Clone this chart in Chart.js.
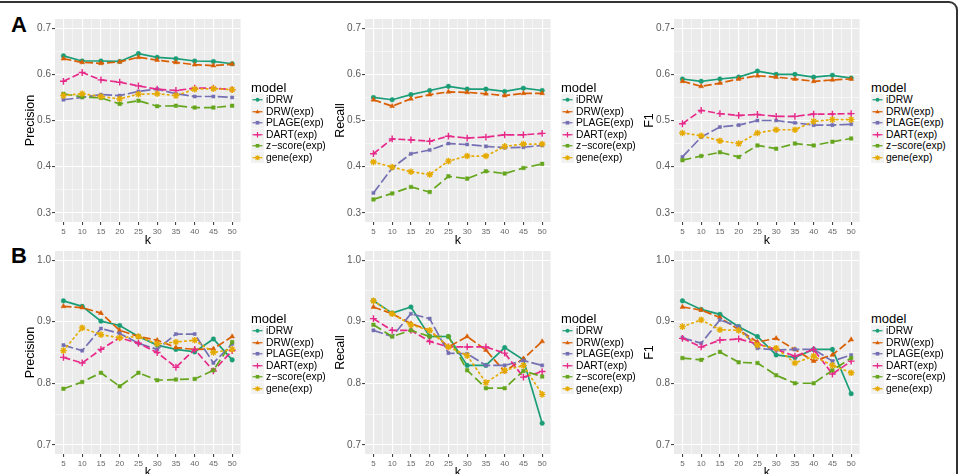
<!DOCTYPE html>
<html>
<head>
<meta charset="utf-8">
<script src="https://cdn.jsdelivr.net/npm/chart.js@4.4.1/dist/chart.umd.min.js"></script>
<style>
  body { margin: 0; width: 959px; height: 474px; position: relative; overflow: hidden; background: #fff;
         font-family: "Liberation Sans", Arial, sans-serif; }
  .frame { position: absolute; left: -12px; top: 1px; width: 966px; height: 520px;
           border: 2px solid #333; border-radius: 9px; }
  canvas { position: absolute; }
  .tag { position: absolute; font-weight: bold; font-size: 22px; line-height: 22px; color: #000; }
  .legend { position: absolute; color: #000; }
  .legend .lt { font-size: 13px; height: 13.5px; line-height: 13.5px; }
  .legend .li { display: flex; align-items: center; height: 11.5px; font-size: 10.3px; }
  .legend svg { display: block; margin-right: 2px; }
</style>
</head>
<body>
<div class="frame"></div>
<div class="tag" style="left:11px;top:14px">A</div>
<div class="tag" style="left:11px;top:245px">B</div>

<canvas id="a1" width="246" height="248" style="left:0px;top:0px"></canvas>
<canvas id="a2" width="246" height="248" style="left:310px;top:0px"></canvas>
<canvas id="a3" width="246" height="248" style="left:619px;top:0px"></canvas>
<canvas id="b1" width="246" height="248" style="left:0px;top:232px"></canvas>
<canvas id="b2" width="246" height="248" style="left:310px;top:232px"></canvas>
<canvas id="b3" width="246" height="248" style="left:619px;top:232px"></canvas>

<script>
// data
const kValues = [5, 10, 15, 20, 25, 30, 35, 40, 45, 50];
const models = ["iDRW", "DRW(exp)", "PLAGE(exp)", "DART(exp)", "z\u2212score(exp)", "gene(exp)"];

// row A (one row per model, same order as models)
const precisionA = [
  [0.640, 0.629, 0.629, 0.628, 0.645, 0.637, 0.634, 0.629, 0.628, 0.623],
  [0.634, 0.626, 0.624, 0.627, 0.637, 0.631, 0.626, 0.621, 0.619, 0.622],
  [0.545, 0.550, 0.556, 0.554, 0.563, 0.568, 0.558, 0.552, 0.552, 0.550],
  [0.585, 0.604, 0.588, 0.583, 0.575, 0.568, 0.565, 0.570, 0.570, 0.567],
  [0.558, 0.551, 0.549, 0.536, 0.543, 0.531, 0.532, 0.528, 0.528, 0.532],
  [0.554, 0.558, 0.552, 0.547, 0.557, 0.558, 0.554, 0.568, 0.569, 0.567]
];
const recallA = [
  [0.550, 0.545, 0.556, 0.565, 0.574, 0.568, 0.568, 0.563, 0.570, 0.565],
  [0.545, 0.531, 0.547, 0.556, 0.562, 0.561, 0.558, 0.554, 0.559, 0.559],
  [0.343, 0.397, 0.428, 0.436, 0.450, 0.448, 0.444, 0.441, 0.442, 0.446],
  [0.428, 0.460, 0.458, 0.455, 0.466, 0.462, 0.464, 0.469, 0.469, 0.472],
  [0.329, 0.342, 0.356, 0.345, 0.379, 0.374, 0.390, 0.385, 0.397, 0.406],
  [0.410, 0.399, 0.389, 0.383, 0.412, 0.423, 0.423, 0.444, 0.449, 0.449]
];
const f1A = [
  [0.590, 0.585, 0.590, 0.594, 0.607, 0.600, 0.600, 0.594, 0.598, 0.592],
  [0.585, 0.574, 0.581, 0.590, 0.597, 0.594, 0.590, 0.585, 0.588, 0.590],
  [0.421, 0.464, 0.486, 0.490, 0.500, 0.500, 0.495, 0.490, 0.490, 0.492],
  [0.493, 0.522, 0.515, 0.511, 0.513, 0.509, 0.509, 0.514, 0.514, 0.515],
  [0.414, 0.423, 0.431, 0.421, 0.446, 0.439, 0.450, 0.446, 0.454, 0.461],
  [0.473, 0.467, 0.456, 0.450, 0.473, 0.480, 0.480, 0.498, 0.502, 0.502]
];

// row B
const precisionB = [
  [0.934, 0.925, 0.901, 0.894, 0.876, 0.862, 0.855, 0.851, 0.872, 0.838],
  [0.925, 0.923, 0.914, 0.886, 0.876, 0.870, 0.858, 0.855, 0.856, 0.876],
  [0.862, 0.853, 0.889, 0.881, 0.865, 0.855, 0.880, 0.880, 0.833, 0.864],
  [0.842, 0.833, 0.855, 0.874, 0.865, 0.850, 0.826, 0.855, 0.820, 0.853],
  [0.791, 0.802, 0.817, 0.795, 0.817, 0.805, 0.806, 0.807, 0.821, 0.867],
  [0.853, 0.890, 0.879, 0.874, 0.876, 0.864, 0.867, 0.870, 0.850, 0.855]
];
const recallB = [
  [0.934, 0.914, 0.924, 0.876, 0.876, 0.829, 0.829, 0.858, 0.838, 0.735],
  [0.924, 0.913, 0.897, 0.886, 0.859, 0.876, 0.854, 0.819, 0.840, 0.868],
  [0.886, 0.876, 0.913, 0.905, 0.849, 0.848, 0.829, 0.829, 0.837, 0.829],
  [0.905, 0.886, 0.886, 0.868, 0.859, 0.859, 0.859, 0.849, 0.810, 0.819],
  [0.895, 0.876, 0.886, 0.876, 0.876, 0.821, 0.792, 0.792, 0.820, 0.811],
  [0.934, 0.913, 0.895, 0.886, 0.859, 0.845, 0.801, 0.821, 0.829, 0.782]
];
const f1B = [
  [0.934, 0.920, 0.912, 0.892, 0.876, 0.846, 0.842, 0.855, 0.855, 0.783],
  [0.924, 0.919, 0.907, 0.887, 0.867, 0.873, 0.855, 0.836, 0.846, 0.871],
  [0.874, 0.865, 0.903, 0.892, 0.857, 0.854, 0.855, 0.855, 0.836, 0.846],
  [0.873, 0.859, 0.870, 0.872, 0.864, 0.855, 0.844, 0.855, 0.815, 0.836],
  [0.841, 0.838, 0.851, 0.834, 0.833, 0.813, 0.800, 0.800, 0.821, 0.841],
  [0.892, 0.903, 0.887, 0.886, 0.862, 0.857, 0.833, 0.844, 0.829, 0.817]
];

const ticksA = [0.3, 0.4, 0.5, 0.6, 0.7];
const ticksB = [0.7, 0.8, 0.9, 1.0];

// styles (ggplot Dark2 look)
const colors = ["#1b9e77", "#d95f02", "#7570b3", "#e7298a", "#66a61e", "#e6ab02"];
const dashes = [[], [8, 3], [10, 3], [7, 3], [9, 4], [1.5, 3.5]];
const shapes = ["circle", "triangle", "rect", "cross", "rect", "star"];
const radii = [2.3, 2.8, 2.2, 3.4, 2.5, 3.3];

const panelBg = {
  id: "panelBg",
  beforeDraw(chart) {
    const { ctx, chartArea: a } = chart;
    ctx.save();
    ctx.fillStyle = "#ebebeb";
    ctx.fillRect(a.left, a.top, a.width, a.height);
    ctx.restore();
  }
};

function makePanel(id, title, values, majors) {
  const step = 0.05;
  const lo = majors[0], hi = majors[majors.length - 1];
  const pad = (hi - lo) * 0.05;
  const yTicks = [];
  for (let v = lo; v <= hi + 1e-9; v += step) yTicks.push(+v.toFixed(3));
  const xTicks = [];
  for (let v = 5; v <= 50; v += 2.5) xTicks.push(v);
  const isMajorY = v => Math.abs(v * 10 - Math.round(v * 10)) < 1e-6;
  const isMajorX = v => v % 5 === 0;

  new Chart(document.getElementById(id), {
    type: "line",
    data: {
      datasets: models.map((m, i) => ({
        label: m,
        data: values[i].map((v, j) => ({ x: kValues[j], y: v })),
        borderColor: colors[i],
        backgroundColor: colors[i],
        borderWidth: 1.7,
        borderDash: dashes[i],
        borderCapStyle: i === 5 ? "round" : "butt",
        pointStyle: shapes[i],
        pointRadius: radii[i],
        pointBorderWidth: (i === 3 || i === 5) ? 1.4 : 0.5,
        tension: 0,
        order: 5 - i
      }))
    },
    options: {
      responsive: false,
      animation: false,
      layout: { padding: { top: 19, right: 4, left: 0, bottom: 0 } },
      plugins: { legend: { display: false }, tooltip: { enabled: false } },
      scales: {
        x: {
          type: "linear",
          min: 2.75,
          max: 52.25,
          afterBuildTicks: s => { s.ticks = xTicks.map(v => ({ value: v })); },
          afterFit: s => { s.height = 26; },
          ticks: {
            autoSkip: false, maxRotation: 0, padding: 2,
            color: "#666", font: { size: 8 },
            callback: v => isMajorX(v) ? String(v) : ""
          },
          grid: {
            color: "#ffffff",
            lineWidth: c => (c.tick && isMajorX(c.tick.value)) ? 1.1 : 0.5,
            tickColor: c => (c.tick && isMajorX(c.tick.value)) ? "#444" : "rgba(0,0,0,0)",
            tickLength: 3
          },
          border: { display: false },
          title: { display: true, text: "k", color: "#000", font: { size: 12.5 }, padding: { top: 0, bottom: 0 } }
        },
        y: {
          min: lo - pad,
          max: hi + pad,
          afterBuildTicks: s => { s.ticks = yTicks.map(v => ({ value: v })); },
          afterFit: s => { s.width = 55; },
          ticks: {
            autoSkip: false, padding: 1,
            color: "#5a5a5a", font: { size: 10 },
            callback: v => isMajorY(v) ? v.toFixed(1) : ""
          },
          grid: {
            color: "#ffffff",
            lineWidth: c => (c.tick && isMajorY(c.tick.value)) ? 1.1 : 0.5,
            tickColor: c => (c.tick && isMajorY(c.tick.value)) ? "#444" : "rgba(0,0,0,0)",
            tickLength: 3
          },
          border: { display: false },
          title: { display: true, text: title, color: "#000", font: { size: 12.5 }, padding: { top: 23, bottom: 0 } }
        }
      }
    },
    plugins: [panelBg]
  });
}

makePanel("a1", "Precision", precisionA, ticksA);
makePanel("a2", "Recall", recallA, ticksA);
makePanel("a3", "F1", f1A, ticksA);
makePanel("b1", "Precision", precisionB, ticksB);
makePanel("b2", "Recall", recallB, ticksB);
makePanel("b3", "F1", f1B, ticksB);

// ggplot-like legends
function markerSvg(i) {
  const c = colors[i], cx = 6.5, cy = 5.75;
  switch (shapes[i]) {
    case "circle": return `<circle cx="${cx}" cy="${cy}" r="1.9" fill="${c}"/>`;
    case "triangle": return `<polygon points="${cx},${cy - 2.3} ${cx + 2.2},${cy + 1.6} ${cx - 2.2},${cy + 1.6}" fill="${c}"/>`;
    case "rect": return `<rect x="${cx - 1.8}" y="${cy - 1.8}" width="3.6" height="3.6" fill="${c}"/>`;
    case "cross": return `<path d="M${cx - 2.8} ${cy}H${cx + 2.8}M${cx} ${cy - 2.8}V${cy + 2.8}" stroke="${c}" stroke-width="1.2"/>`;
    default: return `<path d="M${cx - 2.6} ${cy}H${cx + 2.6}M${cx} ${cy - 2.6}V${cy + 2.6}M${cx - 1.9} ${cy - 1.9}L${cx + 1.9} ${cy + 1.9}M${cx - 1.9} ${cy + 1.9}L${cx + 1.9} ${cy - 1.9}" stroke="${c}" stroke-width="1.1"/>`;
  }
}
function addLegend(left, top) {
  const div = document.createElement("div");
  div.className = "legend";
  div.style.left = left + "px";
  div.style.top = top + "px";
  let html = '<div class="lt">model</div>';
  models.forEach((m, i) => {
    html += `<div class="li"><svg width="13" height="11.5"><rect width="13" height="11.5" fill="#f2f2f2"/>` +
      `<line x1="1.5" y1="5.75" x2="11.5" y2="5.75" stroke="${colors[i]}" stroke-width="1.2"/>${markerSvg(i)}</svg><span>${m}</span></div>`;
  });
  div.innerHTML = html;
  document.body.appendChild(div);
}
[251, 561, 871].forEach(x => { addLegend(x, 80.5); addLegend(x, 311.5); });
</script>
</body>
</html>
